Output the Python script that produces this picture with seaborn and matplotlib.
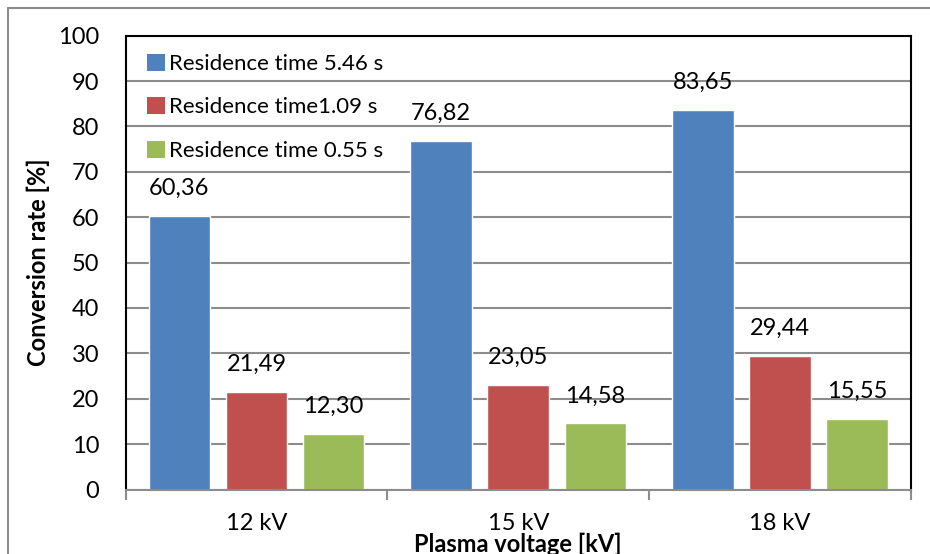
import matplotlib
matplotlib.use("Agg")
import matplotlib.pyplot as plt
import matplotlib.patches as mpatches
import seaborn as sns
import pandas as pd

categories = ["12 kV", "15 kV", "18 kV"]
series_names = ["Residence time 5.46 s", "Residence time1.09 s", "Residence time 0.55 s"]
rt_546 = [60.36, 76.82, 83.65]
rt_109 = [21.49, 23.05, 29.44]
rt_055 = [12.30, 14.58, 15.55]
yticks = [0, 10, 20, 30, 40, 50, 60, 70, 80, 90, 100]
colors = ["#4F81BD", "#C0504D", "#9BBB59"]

rows = []
for name, vals in zip(series_names, [rt_546, rt_109, rt_055]):
    for c, v in zip(categories, vals):
        rows.append({"voltage": c, "rate": v, "series": name})
df = pd.DataFrame(rows)

sns.set_theme(style="white")
plt.rcParams["font.family"] = ["Lato", "DejaVu Sans"]
plt.rcParams["text.color"] = "black"
plt.rcParams["axes.labelcolor"] = "black"
plt.rcParams["xtick.color"] = "black"
plt.rcParams["ytick.color"] = "black"

fig = plt.figure(figsize=(9.3, 5.54), dpi=100)
ax = fig.add_axes([0.135, 0.1164, 0.9796 - 0.135, 0.9356 - 0.1164])

sns.barplot(data=df, x="voltage", y="rate", hue="series", order=categories,
            hue_order=series_names, palette=colors, width=0.883, gap=0.2,
            saturation=1, legend=False, ax=ax, errorbar=None)

fs = 17
for cont in ax.containers:
    labels = [f"{b.get_height():.2f}".replace(".", ",") for b in cont]
    ax.bar_label(cont, labels=labels, padding=12, fontsize=fs, color="black")

ax.set_ylim(0, 100)
ax.set_xlim(-0.5, 2.5)
ax.set_yticks(yticks)
ax.set_yticklabels([str(t) for t in yticks], fontsize=fs)
ax.tick_params(axis="y", length=0, pad=19, labelcolor="black")
ax.set_xticks(range(len(categories)))
ax.set_xticklabels(categories, fontsize=fs)
ax.set_xticks([-0.5, 0.5, 1.5, 2.5], minor=True)
ax.tick_params(axis="x", which="major", length=0, pad=17, labelcolor="black")
ax.tick_params(axis="x", which="minor", length=7, width=1.5, color="#8c8c8c", bottom=True)
ax.yaxis.grid(True, color="#8c8c8c", linewidth=1.5)
ax.set_axisbelow(True)

for side in ["left", "top", "right"]:
    ax.spines[side].set_visible(True)
    ax.spines[side].set_color("black")
    ax.spines[side].set_linewidth(1.5)
ax.spines["bottom"].set_color("#8c8c8c")
ax.spines["bottom"].set_linewidth(1.5)

ax.set_xlabel("Plasma voltage [kV]", fontsize=fs, fontweight="bold", va="center", color="black")
ax.xaxis.set_label_coords(0.5, -0.12)
ax.set_ylabel("Conversion rate [%]", fontsize=fs, fontweight="bold", va="center", color="black")
ax.yaxis.set_label_coords(-0.111, 0.5)

handles = [mpatches.Patch(facecolor=c, edgecolor="none") for c in colors]
ax.legend(handles, series_names, loc="upper left", bbox_to_anchor=(0.016, 0.98),
          frameon=False, fontsize=16, handlelength=0.8, handleheight=0.8,
          handletextpad=0.2, labelspacing=1.05, borderaxespad=0)

# outer chart border
fig.add_artist(plt.Line2D([8 / 930, 8 / 930], [0, 1 - 8 / 554], transform=fig.transFigure,
                          color="#8c8c8c", linewidth=1.5))
fig.add_artist(plt.Line2D([8 / 930, 1], [1 - 8 / 554, 1 - 8 / 554], transform=fig.transFigure,
                          color="#8c8c8c", linewidth=1.5))

fig.savefig("out.png", dpi=100, facecolor="white")
